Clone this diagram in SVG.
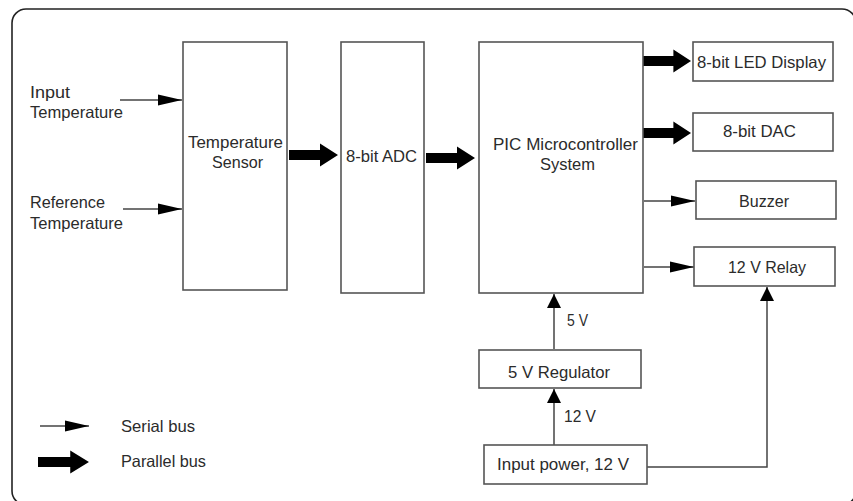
<svg xmlns="http://www.w3.org/2000/svg" xmlns:xlink="http://www.w3.org/1999/xlink" width="853" height="501" viewBox="0 0 853 501">
<style>
.box{fill:#fff;stroke:#555;stroke-width:1.6}
.t{font-family:"Liberation Sans",Arial,sans-serif;font-size:16.5px;fill:#2b2b2b}
.ser{fill:none;stroke:#444;stroke-width:1.5}
.frame{fill:none;stroke:#222;stroke-width:1.6}
</style>
<defs>
<marker id="ah" markerUnits="userSpaceOnUse" markerWidth="24" markerHeight="12" refX="24" refY="6" orient="auto" viewBox="0 0 24 12">
<path d="M0,0.5 L24,6 L0,11.5 Z" fill="#000"/>
</marker>
<marker id="ah2" markerUnits="userSpaceOnUse" markerWidth="14" markerHeight="14" refX="14" refY="7" orient="auto" viewBox="0 0 14 14">
<path d="M0,0 L14,7 L0,14 Z" fill="#000"/>
</marker>
<path id="par" d="M0,-5 L31,-5 L31,-11.5 L49,0 L31,11.5 L31,5 L0,5 Z" fill="#000"/>
</defs>
<rect class="frame" x="12" y="9" width="844" height="496" rx="14" ry="14"/>

<g id="connectors">
<line class="ser" x1="120" y1="100" x2="182" y2="100" marker-end="url(#ah)"/>
<line class="ser" x1="123" y1="209" x2="182" y2="209" marker-end="url(#ah)"/>
<use xlink:href="#par" href="#par" transform="translate(289,155)"/>
<use xlink:href="#par" href="#par" transform="translate(426,158)"/>
<use xlink:href="#par" href="#par" transform="translate(643,61) scale(0.98,1)"/>
<use xlink:href="#par" href="#par" transform="translate(643,133) scale(0.98,1)"/>
<line class="ser" x1="644" y1="201" x2="695" y2="201" marker-end="url(#ah)"/>
<line class="ser" x1="644" y1="267" x2="694" y2="267" marker-end="url(#ah)"/>
<line class="ser" x1="554" y1="349" x2="554" y2="294" marker-end="url(#ah2)"/>
<line class="ser" x1="554" y1="445" x2="554" y2="389" marker-end="url(#ah2)"/>
<polyline class="ser" points="647,467 767,467 767,287" marker-end="url(#ah2)"/>
</g>

<g id="input-temp-label">
<text class="t" x="30" y="98" textLength="40" lengthAdjust="spacingAndGlyphs">Input</text>
<text class="t" x="30" y="118" textLength="93" lengthAdjust="spacingAndGlyphs">Temperature</text>
</g>
<g id="ref-temp-label">
<text class="t" x="30" y="208" textLength="75" lengthAdjust="spacingAndGlyphs">Reference</text>
<text class="t" x="30" y="229" textLength="93" lengthAdjust="spacingAndGlyphs">Temperature</text>
</g>

<g id="temp-sensor">
<rect class="box" x="183" y="42" width="104" height="248"/>
<text class="t" x="188" y="148" textLength="95" lengthAdjust="spacingAndGlyphs">Temperature</text>
<text class="t" x="212" y="168" textLength="51" lengthAdjust="spacingAndGlyphs">Sensor</text>
</g>

<g id="adc">
<rect class="box" x="341" y="42" width="83" height="251"/>
<text class="t" x="346" y="162" textLength="71" lengthAdjust="spacingAndGlyphs">8-bit ADC</text>
</g>

<g id="pic">
<rect class="box" x="479" y="42" width="164" height="251"/>
<text class="t" x="493" y="150" textLength="145" lengthAdjust="spacingAndGlyphs">PIC Microcontroller</text>
<text class="t" x="540" y="170" textLength="55" lengthAdjust="spacingAndGlyphs">System</text>
</g>

<g id="led">
<rect class="box" x="693" y="42" width="140" height="39"/>
<text class="t" x="697" y="68" textLength="129" lengthAdjust="spacingAndGlyphs">8-bit LED Display</text>
</g>

<g id="dac">
<rect class="box" x="693" y="113" width="140" height="38"/>
<text class="t" x="723" y="137" textLength="73" lengthAdjust="spacingAndGlyphs">8-bit DAC</text>
</g>

<g id="buzzer">
<rect class="box" x="696" y="181" width="140" height="38"/>
<text class="t" x="739" y="207" textLength="50" lengthAdjust="spacingAndGlyphs">Buzzer</text>
</g>

<g id="relay">
<rect class="box" x="694" y="247" width="141" height="39"/>
<text class="t" x="728" y="273" textLength="78" lengthAdjust="spacingAndGlyphs">12 V Relay</text>
</g>

<g id="regulator">
<rect class="box" x="479" y="350" width="162" height="38"/>
<text class="t" x="508" y="378" textLength="102" lengthAdjust="spacingAndGlyphs">5 V Regulator</text>
</g>

<g id="power">
<rect class="box" x="484" y="445" width="163" height="39"/>
<text class="t" x="497" y="470" textLength="132" lengthAdjust="spacingAndGlyphs">Input power, 12 V</text>
</g>

<g id="voltage-labels">
<text class="t" x="567" y="326" textLength="21" lengthAdjust="spacingAndGlyphs">5 V</text>
<text class="t" x="564" y="422" textLength="32" lengthAdjust="spacingAndGlyphs">12 V</text>
</g>

<g id="legend">
<line class="ser" x1="40" y1="426" x2="89" y2="426" marker-end="url(#ah)"/>
<text class="t" x="121" y="432" textLength="74" lengthAdjust="spacingAndGlyphs">Serial bus</text>
<use xlink:href="#par" href="#par" transform="translate(38,462) scale(1.04,1)"/>
<text class="t" x="121" y="467" textLength="85" lengthAdjust="spacingAndGlyphs">Parallel bus</text>
</g>
</svg>
